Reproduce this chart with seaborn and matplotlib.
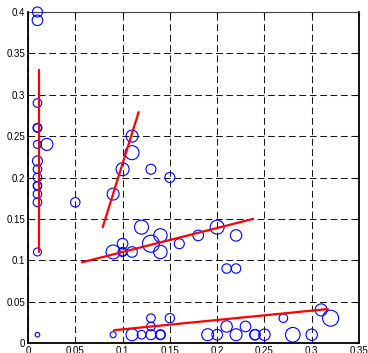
import numpy as np
import pandas as pd
import seaborn as sns
import matplotlib.pyplot as plt

# circle data: x, y, radius in pixels (circle size)
xs = [0.01, 0.01, 0.01, 0.01, 0.01, 0.01, 0.02, 0.01, 0.01, 0.01, 0.01, 0.01, 0.01, 0.01, 0.01, 0.01,
      0.05, 0.09, 0.10, 0.11, 0.11, 0.13, 0.15,
      0.09, 0.10, 0.10, 0.10, 0.11, 0.12, 0.13, 0.14, 0.14, 0.16, 0.18, 0.20, 0.22,
      0.21, 0.22,
      0.09, 0.11, 0.12, 0.13, 0.13, 0.13, 0.14, 0.14, 0.15,
      0.19, 0.20, 0.21, 0.22, 0.23, 0.24, 0.24, 0.25, 0.27, 0.28, 0.30, 0.31, 0.32]
ys = [0.40, 0.39, 0.29, 0.26, 0.26, 0.24, 0.24, 0.22, 0.21, 0.20, 0.19, 0.19, 0.18, 0.17, 0.11, 0.01,
      0.17, 0.18, 0.21, 0.23, 0.25, 0.21, 0.20,
      0.11, 0.11, 0.11, 0.12, 0.11, 0.14, 0.12, 0.13, 0.11, 0.12, 0.13, 0.14, 0.13,
      0.09, 0.09,
      0.01, 0.01, 0.01, 0.01, 0.02, 0.03, 0.01, 0.01, 0.03,
      0.01, 0.01, 0.02, 0.01, 0.02, 0.01, 0.01, 0.01, 0.03, 0.01, 0.01, 0.04, 0.03]
radius = [5, 5.3, 4.3, 4.5, 4, 4, 6, 5, 4.3, 4.3, 4.3, 4, 4.3, 4.3, 4, 2.3,
          4.7, 6, 6.5, 7, 6, 5, 5,
          7, 4.5, 4, 5.3, 5.3, 7, 8.5, 6.7, 6.7, 5, 5.3, 7, 5.7,
          4.7, 4.7,
          3, 6, 4.3, 5, 4.3, 4.3, 5, 4.5, 4.7,
          6, 5.3, 5.7, 6, 5.3, 5.3, 5, 5.7, 4.3, 7.3, 5.7, 6, 8]

# red fitted lines: start / end points
fit_x0 = [0.0116, 0.079, 0.057, 0.091]
fit_y0 = [0.110, 0.140, 0.0975, 0.0155]
fit_x1 = [0.0116, 0.117, 0.238, 0.317]
fit_y1 = [0.330, 0.279, 0.150, 0.041]

xticks = [0, 0.05, 0.1, 0.15, 0.2, 0.25, 0.3, 0.35]
yticks = [0, 0.05, 0.1, 0.15, 0.2, 0.25, 0.3, 0.35, 0.4]
xlabels = ["0", "0.05", "0.1", "0.15", "0.2", "0.25", "0.3", "0.35"]
ylabels = ["0", "0.05", "0.1", "0.15", "0.2", "0.25", "0.3", "0.35", "0.4"]

sns.set_style("white")
plt.rcParams["font.family"] = ["Liberation Sans", "DejaVu Sans"]

df = pd.DataFrame({"x": xs, "y": ys, "r": radius})
# marker area in points^2 from pixel radius (dpi 100)
df["s"] = (2 * df["r"] * 72 / 100) ** 2

fig = plt.figure(figsize=(3.68, 3.53), dpi=100)
ax = fig.add_axes([28 / 368, 10 / 353, 331 / 368, 331 / 353])

sns.scatterplot(data=df, x="x", y="y", s=df["s"].values, facecolors="none",
                edgecolor="#0000ff", linewidth=0.8, ax=ax, legend=False, zorder=3,
                clip_on=False)

for i in range(len(fit_x0)):
    ax.plot([fit_x0[i], fit_x1[i]], [fit_y0[i], fit_y1[i]], color="red", lw=1.6, zorder=4)

ax.set_xlim(0, 0.35)
ax.set_ylim(0, 0.4)
ax.set_xticks(xticks)
ax.set_xticklabels(xlabels)
ax.set_yticks(yticks)
ax.set_yticklabels(ylabels)
ax.set_xlabel("")
ax.set_ylabel("")
ax.tick_params(direction="in", length=3, width=0.8, labelsize=7, colors="black",
               top=True, right=True, pad=2)
ax.grid(True, color="black", linestyle=(0, (6.5, 3.5)), linewidth=0.75, alpha=0.9)
for side in ["left", "bottom", "right"]:
    ax.spines[side].set_linewidth(1.3)
    ax.spines[side].set_color("black")
ax.spines["top"].set_linewidth(0.8)
ax.spines["top"].set_color("#444444")
ax.spines["left"].set_zorder(5)

plt.savefig("out.png", dpi=100)
